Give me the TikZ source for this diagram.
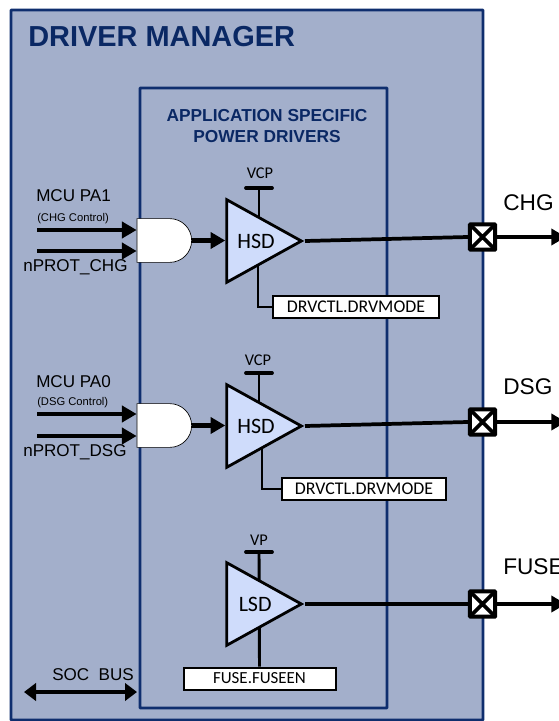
\documentclass[tikz,border=0pt]{standalone}
\usepackage{fontspec}
\setmainfont{Liberation Sans}
\newfontfamily\calfont{Carlito}
\usetikzlibrary{arrows.meta,backgrounds,shapes.geometric,shapes.gates.logic.US}
\definecolor{panelblue}{HTML}{A3AFCB}
\definecolor{edgeblue}{HTML}{0F2E6E}
\definecolor{titleblue}{HTML}{0A2864}
\definecolor{driveblue}{HTML}{CFDCFB}
\tikzset{
  panel/.style={draw=edgeblue, line width=2.2pt, fill=panelblue, rounded corners=0.5pt},
  wire/.style={line width=3.6pt, -{Triangle[length=11pt,width=12pt]}},
  plainwire/.style={line width=2.8pt},
  stem/.style={line width=2.2pt},
  railbar/.style={line width=2.8pt, line cap=round},
  drvtri/.style={isosceles triangle, isosceles triangle stretches, draw, line width=2.1pt, fill=driveblue,
    minimum width=62pt, minimum height=56pt, inner sep=0pt, anchor=apex, font=\calfont\fontsize{16.5}{18}\selectfont},
  andgate/.style={and gate US, logic gate inputs=nn, draw, line width=0.5pt, fill=white,
    minimum width=41pt, minimum height=32pt, inner sep=0pt},
  regbox/.style={draw, line width=1.5pt, fill=white, inner sep=0pt, font=\calfont\fontsize{13.4}{14}\selectfont},
  pad/.style={draw, line width=3pt, fill=white, minimum size=19pt, inner sep=0pt, rounded corners=0.5pt,
    path picture={\draw[line width=2.8pt] (path picture bounding box.north west) -- (path picture bounding box.south east)
      (path picture bounding box.north east) -- (path picture bounding box.south west);}},
  sig/.style={font=\fontsize{12.8}{14}\selectfont, inner sep=0pt},
  tiny/.style={font=\fontsize{8.4}{10}\selectfont, inner sep=0pt},
  pin/.style={font=\fontsize{17}{19}\selectfont, inner sep=0pt, anchor=west},
  rail/.style={font=\calfont\fontsize{12.3}{14}\selectfont, inner sep=0pt},
}
\begin{document}
\begin{tikzpicture}[x=0.75pt,y=-0.75pt]
    \useasboundingbox (0,0) rectangle (558,721);
    % gates and drivers
    \node[andgate] (andchg) at (162.5,240.5) {};
    \node[andgate] (anddsg) at (162.5,425.5) {};
    \node[drvtri] (hsdchg) at (305,241) {\hspace{3pt}HSD};
    \node[drvtri] (hsddsg) at (305,426) {\hspace{3pt}HSD};
    \node[drvtri] (lsdfuse) at (305,604) {\hspace{3pt}LSD};
    % registers
    \node[regbox, minimum width=125pt, minimum height=16pt] (regchg) at (356,307) {DRVCTL.DRVMODE};
    \node[regbox, minimum width=123pt, minimum height=16pt] (regdsg) at (364,489) {DRVCTL.DRVMODE};
    \node[regbox, minimum width=114pt, minimum height=16.5pt, font=\calfont\fontsize{12.7}{14}\selectfont] (regfuse) at (259.5,678.5) {FUSE.FUSEEN};
    % pads
    \node[pad] (padchg) at (482.5,237) {};
    \node[pad] (paddsg) at (482.5,422) {};
    \node[pad] (padfuse) at (482.5,604) {};
    % free ends
    \coordinate (inchga) at (37,230);
    \coordinate (inchgb) at (37,251);
    \coordinate (indsga) at (37,414);
    \coordinate (indsgb) at (37,436);
    \coordinate (outchg) at (566,237);
    \coordinate (outdsg) at (566,422);
    \coordinate (outfuse) at (566,604);
    \coordinate (busl) at (24,692);
    \coordinate (busr) at (137,692);
    \coordinate (vcpa) at (259,188);
    \coordinate (vcpb) at (259,373);
    \coordinate (vpa) at (259,552);
    \begin{pgfonlayer}{background}
        \draw[panel] (11,10) rectangle (483,720);
        \draw[panel] (140,88) rectangle (387,708);
        \draw[stem] (vcpa) -- (vcpa |- hsdchg.center);
        \draw[stem] (vcpb) -- (vcpb |- hsddsg.center);
        \draw[stem] (vpa) -- (regfuse.north);
        \draw[stem] (258,241) |- (regchg.west);
        \draw[stem] (262,426) |- (regdsg.west);
    \end{pgfonlayer}
    \draw[railbar] (246,188) -- (272,188);
    \draw[railbar] (246,373) -- (272,373);
    \draw[railbar] (246,552) -- (272,552);
    % wires
    \draw[wire] (inchga) -- (inchga -| andchg.west);
    \draw[wire] (inchgb) -- (inchgb -| andchg.west);
    \draw[wire] (indsga) -- (indsga -| anddsg.west);
    \draw[wire] (indsgb) -- (indsgb -| anddsg.west);
    \draw[wire] (andchg.output) -- (hsdchg.west |- andchg.output);
    \draw[wire] (anddsg.output) -- (hsddsg.west |- anddsg.output);
    \draw[plainwire] (hsdchg.apex) -- (padchg.west);
    \draw[plainwire] (hsddsg.apex) -- (paddsg.west);
    \draw[plainwire] (lsdfuse.apex) -- (padfuse.west);
    \draw[wire] (padchg.east) -- (outchg);
    \draw[wire] (paddsg.east) -- (outdsg);
    \draw[wire] (padfuse.east) -- (outfuse);
    \draw[line width=3.6pt, {Triangle[length=9pt,width=13pt]}-{Triangle[length=9pt,width=13pt]}] (busl) -- (busr);
    % labels
    \node[anchor=west, inner sep=0pt, text=titleblue, font=\bfseries\fontsize{21.7}{24}\selectfont] (title) at (28,37) {DRIVER MANAGER};
    \node[align=center, inner sep=0pt, text=titleblue, font=\bfseries\fontsize{13}{15.5}\selectfont] (subtitle) at (267,126) {APPLICATION SPECIFIC\\POWER DRIVERS};
    \node[rail] (vcpalabel) at (260,173) {VCP};
    \node[rail] (vcpblabel) at (258,360) {VCP};
    \node[rail] (vplabel) at (259,540) {VP};
    \node[sig, anchor=west] (pa1) at (36,196) {MCU PA1};
    \node[tiny, anchor=west] (chgctl) at (37,219) {(CHG Control)};
    \node[sig, anchor=west] (protchg) at (23,267) {nPROT\_CHG};
    \node[sig, anchor=west] (pa0) at (36,382) {MCU PA0};
    \node[tiny, anchor=west] (dsgctl) at (37,403) {(DSG Control)};
    \node[sig, anchor=west] (protdsg) at (23,452) {nPROT\_DSG};
    \node[pin] (chglabel) at (503,203) {CHG};
    \node[pin] (dsglabel) at (503,387) {DSG};
    \node[pin] (fuselabel) at (503,567) {FUSE};
    \node[sig, anchor=west] (busname) at (52,675) {SOC\ \ BUS};
\end{tikzpicture}
\end{document}
